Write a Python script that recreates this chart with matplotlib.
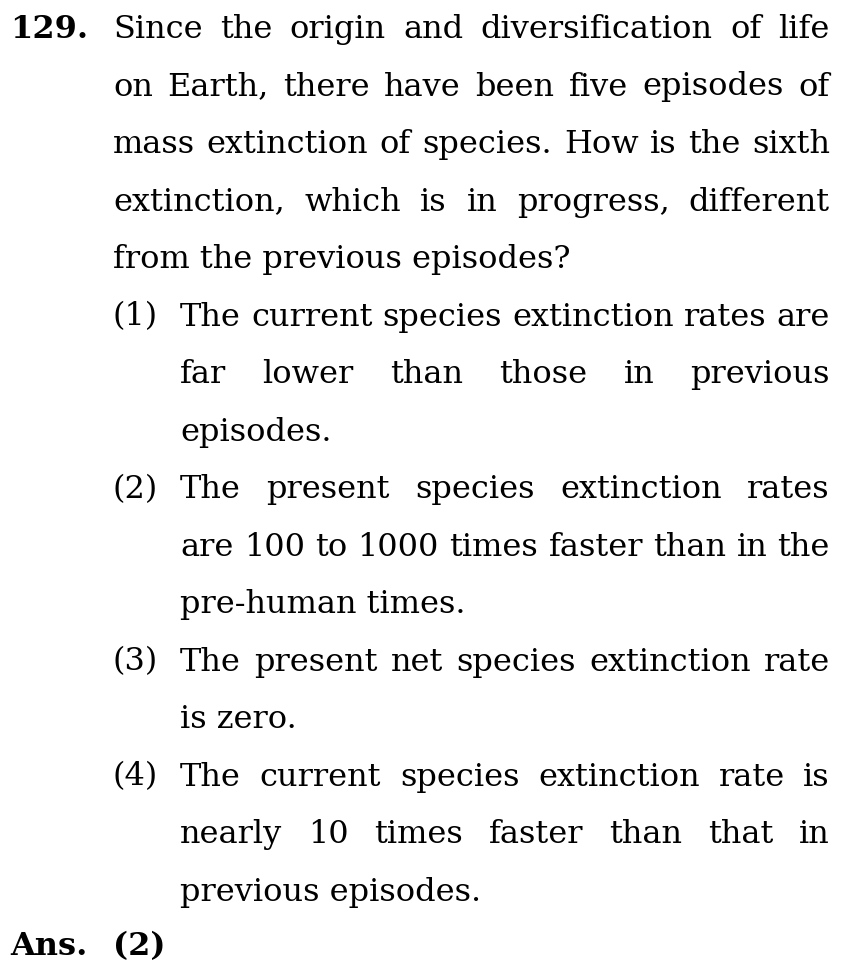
import matplotlib
matplotlib.use("Agg")
import matplotlib.pyplot as plt

W, H = 862, 980
FONT = "DejaVu Serif"
FS = 23

question_number = "129."
# (x_start_px, text, justify, label)
lines = [
    (113, "Since the origin and diversification of life", True, None),
    (113, "on Earth, there have been five episodes of", True, None),
    (113, "mass extinction of species. How is the sixth", True, None),
    (113, "extinction, which is in progress, different", True, None),
    (113, "from the previous episodes?", False, None),
    (180, "The current species extinction rates are", True, "(1)"),
    (180, "far lower than those in previous", True, None),
    (180, "episodes.", False, None),
    (180, "The present species extinction rates", True, "(2)"),
    (180, "are 100 to 1000 times faster than in the", True, None),
    (180, "pre-human times.", False, None),
    (180, "The present net species extinction rate", True, "(3)"),
    (180, "is zero.", False, None),
    (180, "The current species extinction rate is", True, "(4)"),
    (180, "nearly 10 times faster than that in", True, None),
    (180, "previous episodes.", False, None),
]
answer_label = "Ans."
answer_value = "(2)"

RIGHT = 830
fig = plt.figure(figsize=(W / 100, H / 100), dpi=100)
ax = fig.add_axes([0, 0, 1, 1])
ax.set_xlim(0, W)
ax.set_ylim(H, 0)
ax.axis("off")
r = fig.canvas.get_renderer()

def width(t, **kw):
    tt = ax.text(0, 0, t, fontsize=FS, family=FONT, **kw)
    w = tt.get_window_extent(r).width
    tt.remove()
    return w

ax.text(10, 38, question_number, fontsize=FS, family=FONT, weight="bold", va="baseline")
for i, (x0, txt, just, lab) in enumerate(lines):
    y = 38 + 57.5 * i
    if lab:
        ax.text(113, y, lab, fontsize=FS, family=FONT, va="baseline")
    words = txt.split(" ")
    if just and len(words) > 1:
        ws = [width(w) for w in words]
        gap = (RIGHT - x0 - sum(ws)) / (len(words) - 1)
        x = x0
        for w, wd in zip(words, ws):
            ax.text(x, y, w, fontsize=FS, family=FONT, va="baseline")
            x += wd + gap
    else:
        ax.text(x0, y, txt, fontsize=FS, family=FONT, va="baseline")

ax.text(10, 955, answer_label, fontsize=FS, family=FONT, weight="bold", va="baseline")
ax.text(113, 955, answer_value, fontsize=FS, family=FONT, weight="bold", va="baseline")

fig.savefig("out.png", dpi=100, facecolor="white")
